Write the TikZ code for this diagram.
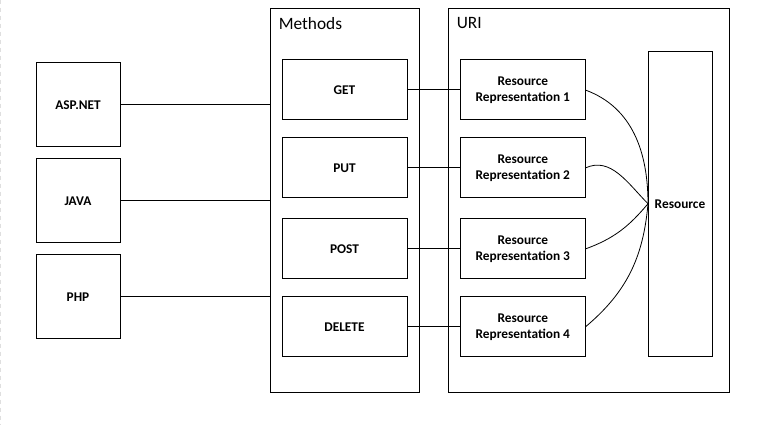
\documentclass[tikz,border=0pt]{standalone}
\usepackage{fontspec}
\setmainfont{Carlito}
\usetikzlibrary{calc,positioning}

\begin{document}
\begin{tikzpicture}[x=0.75pt,y=-0.75pt]

\tikzstyle{plat}=[draw,outer sep=0pt,line width=0.75pt,minimum width=63pt,minimum height=63pt,font=\fontsize{10}{12}\selectfont\bfseries]
\tikzstyle{method}=[draw,outer sep=0pt,line width=0.75pt,minimum width=93.75pt,minimum height=45pt,font=\fontsize{10}{12}\selectfont\bfseries]
\tikzstyle{repr}=[method,align=center]
\tikzstyle{cont}=[draw,outer sep=0pt,line width=0.75pt,minimum height=288pt]
\tikzstyle{title}=[anchor=base west,inner sep=0pt,font=\fontsize{13}{15}\selectfont]
\tikzstyle{link}=[line width=0.75pt]
\tikzstyle{curve}=[line width=0.6pt]

\useasboundingbox (0,0) rectangle (769,431);
\draw [gray!25,dashed] (0.7,0) -- (0.7,425);

% Kontenery

\node (methods) [cont,minimum width=111.75pt] at (344.5,201) {};
\node (uri) [cont,minimum width=210.75pt] at (588.5,201) {};

\node (methodstxt) [title] at (278.5,29.3) {Methods};
\node (uritxt) [title] at (456.5,29) {URI};

% Platformy

\node (asp) [plat] at (78,105) {ASP.NET};
\node (java) [plat] at (78,201) {JAVA};
\node (php) [plat] at (78,297) {PHP};

\draw [link] (asp.east) -- (asp.east -| methods.west);
\draw [link] (java.east) -- (java.east -| methods.west);
\draw [link] (php.east) -- (php.east -| methods.west);

% Metody

\node (get) [method] at (344.5,90) {GET};
\node (put) [method] at (344.5,168) {PUT};
\node (post) [method] at (344.5,249) {POST};
\node (delete) [method] at (344.5,327) {DELETE};

% Reprezentacje

\node (rr1) [repr] at (522.8,90) {Resource\\Representation 1};
\node (rr2) [repr] at (522.8,168) {Resource\\Representation 2};
\node (rr3) [repr] at (522.8,249) {Resource\\Representation 3};
\node (rr4) [repr] at (522.8,327) {Resource\\Representation 4};

\draw [link] (get.east) -- (rr1.west);
\draw [link] (put.east) -- (rr2.west);
\draw [link] (post.east) -- (rr3.west);
\draw [link] (delete.east) -- (rr4.west);

% Zasób

\node (res) [draw,outer sep=0pt,line width=0.75pt,minimum width=48pt,minimum height=228.75pt,font=\fontsize{10}{12}\selectfont\bfseries] at (680,204.5) {Resource};
\coordinate (resin) at ([yshift=0.6pt]res.west);

\draw [curve] (rr1.east) to[out=-20,in=90] (resin);
\draw [curve] (rr2.east) to[out=25,in=135] (resin);
\draw [curve] (rr3.east) to[out=20,in=-130] (resin);
\draw [curve] (rr4.east) to[out=40,in=-95] (resin);

\end{tikzpicture}
\end{document}
